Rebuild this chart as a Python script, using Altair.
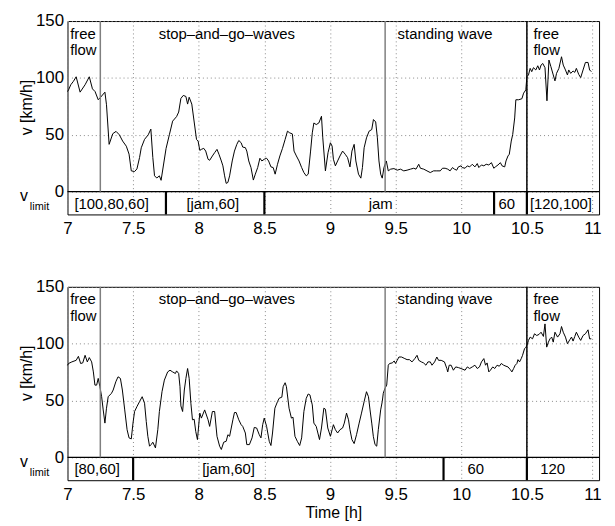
import altair as alt
import pandas as pd

FONT = "Liberation Sans"

x_ticks = [7, 7.5, 8, 8.5, 9, 9.5, 10, 10.5, 11]
y_ticks = [0, 50, 100, 150]

top_t = [7.000, 7.008, 7.025, 7.045, 7.066, 7.096, 7.134, 7.166, 7.190, 7.210, 7.234, 7.252, 7.285, 7.297,
         7.317, 7.345, 7.370, 7.395, 7.420, 7.448, 7.469, 7.486, 7.511, 7.529, 7.549, 7.562, 7.587, 7.615,
         7.635, 7.650, 7.663, 7.680, 7.700, 7.713, 7.751, 7.776, 7.801, 7.831, 7.847, 7.864, 7.882, 7.902,
         7.915, 7.927, 7.947, 7.983, 7.995,
         8.008, 8.020, 8.038, 8.053, 8.071, 8.083, 8.104, 8.121, 8.139, 8.154, 8.172, 8.184, 8.197, 8.209,
         8.222, 8.235, 8.255, 8.272, 8.290, 8.305, 8.323, 8.335, 8.355, 8.366, 8.381, 8.398, 8.416, 8.431,
         8.449, 8.466, 8.481, 8.499, 8.517, 8.532, 8.550, 8.567, 8.582, 8.600, 8.618, 8.638, 8.658, 8.676,
         8.693, 8.713, 8.726, 8.744, 8.764, 8.784, 8.801, 8.819, 8.834, 8.852, 8.865, 8.877, 8.895, 8.915,
         8.935, 8.945, 8.965, 8.985,
         9.003, 9.016, 9.026, 9.041, 9.058, 9.076, 9.096, 9.116, 9.134, 9.152, 9.167, 9.184, 9.197, 9.217,
         9.235, 9.247, 9.260, 9.278, 9.298, 9.318, 9.331, 9.348, 9.361, 9.373, 9.386, 9.398, 9.411, 9.429,
         9.444, 9.462, 9.487, 9.512, 9.537, 9.562, 9.587, 9.613, 9.638, 9.655, 9.676, 9.689, 9.714, 9.739,
         9.764, 9.789, 9.814, 9.840, 9.857, 9.877, 9.897, 9.915, 9.933, 9.948, 9.965, 9.978, 9.998,
         10.008, 10.029, 10.046, 10.064, 10.084, 10.104, 10.122, 10.134, 10.154, 10.172, 10.190, 10.210,
         10.230, 10.248, 10.260, 10.280, 10.298, 10.311, 10.331, 10.341, 10.356, 10.366, 10.381, 10.392,
         10.407, 10.416, 10.437, 10.462, 10.475, 10.492, 10.500, 10.512, 10.525, 10.537, 10.550, 10.568,
         10.583, 10.596, 10.608, 10.621, 10.638, 10.653, 10.668, 10.683, 10.701, 10.714, 10.726, 10.744,
         10.764, 10.777, 10.794, 10.809, 10.819, 10.834, 10.852, 10.865, 10.877, 10.895, 10.910, 10.928,
         10.946, 10.966, 10.978, 10.991]
top_v = [88, 89.5, 94, 97, 101, 87.5, 94, 101, 90.4, 88, 80.8, 83, 87.5, 76.4,
         41.6, 51, 53, 50, 44.5, 40, 33, 18.3, 17.7, 20, 30, 38.6, 46, 50,
         55, 30, 14, 12, 13.9, 10, 38, 50, 62, 66, 70, 82, 84.6, 83.7,
         77, 83, 77, 45.9, 44.5,
         36.3, 37.2, 38.1, 35.7, 28.5, 27.6, 31.4, 34.3, 37.2, 32.9, 27, 22.7, 13.9, 7.3,
         8.1, 13.9, 27, 35.7, 41.6, 45, 43, 39.2, 38.7, 35.7, 27, 21.2, 10.2, 15.4,
         21.2, 29.4, 27, 28.5, 29.4, 27, 21.8, 21.2, 15.4, 24.1, 31.4, 38.1, 45.9, 53.2,
         51.7, 50.8, 35.7, 31.4, 27, 21.2, 16.8, 13.9, 15.4, 35.7, 51.7, 60.4, 59, 60.4,
         66.3, 47.3, 18.3, 34.3,
         43, 40.1, 28.5, 22.7, 27, 31.4, 35.7, 32.9, 29.9, 21.8, 35.7, 41.6, 27, 15.4,
         11.9, 21.2, 38.6, 47.3, 53.2, 54.6, 63.4, 61.3, 47.3, 27, 15.4, 11.9, 21.2, 27,
         18.3, 19.8, 20.3, 18.9, 19.8, 18.3, 18.9, 19.8, 20.6, 19.8, 24.1, 20.6, 19.8, 18.3,
         16.8, 18.3, 18.3, 18.3, 20.6, 20.6, 19.8, 18.3, 21.2, 19.8, 18.9, 21.8, 22.7,
         21.2, 20.6, 22.7, 21.8, 24.1, 21.8, 24.7, 21.2, 23.5, 22.7, 24.1, 23.5,
         25.5, 20.6, 21.8, 23.5, 25.5, 22.7, 21.8, 27, 31.4, 32.9, 44.5, 50.3,
         64.8, 80.8, 80.8, 81.7, 86.6, 89.5, 101.1, 102.6, 108.4, 105.5, 109, 107,
         110.7, 107, 111.3, 112.7, 109, 79.9, 115.7, 109.9, 102.6, 97.4, 104, 108.4,
         118.6, 111.3, 107, 102.6, 107, 104, 106.1, 104.9, 108.4, 103.1, 100.3, 107,
         113.6, 113.6, 107, 105.5]

bot_t = [7.000, 7.008, 7.033, 7.066, 7.083, 7.100, 7.116, 7.134, 7.151, 7.166, 7.184, 7.197, 7.209, 7.222,
         7.234, 7.247, 7.260, 7.272, 7.285, 7.297, 7.310, 7.335, 7.348, 7.368, 7.385, 7.403, 7.418, 7.436,
         7.454, 7.469, 7.486, 7.499, 7.511, 7.529, 7.549, 7.569, 7.587, 7.600, 7.612, 7.625, 7.637, 7.650,
         7.670, 7.688, 7.700, 7.720, 7.738, 7.763, 7.781, 7.801, 7.822, 7.831, 7.847, 7.857, 7.864, 7.877,
         7.890, 7.902, 7.915, 7.927, 7.940, 7.952, 7.965, 7.977, 7.990,
         8.008, 8.020, 8.045, 8.071, 8.083, 8.104, 8.121, 8.139, 8.159, 8.172, 8.190, 8.209, 8.222, 8.235,
         8.260, 8.272, 8.285, 8.305, 8.323, 8.335, 8.355, 8.366, 8.386, 8.406, 8.423, 8.441, 8.461, 8.474,
         8.487, 8.499, 8.517, 8.537, 8.550, 8.562, 8.580, 8.600, 8.612, 8.633, 8.643, 8.658, 8.668, 8.688,
         8.706, 8.718, 8.733, 8.751, 8.769, 8.784, 8.801, 8.819, 8.834, 8.847, 8.865, 8.877, 8.895, 8.920,
         8.935, 8.953, 8.965, 8.983, 9.003,
         9.026, 9.041, 9.058, 9.076, 9.096, 9.109, 9.126, 9.141, 9.152, 9.167, 9.184, 9.202, 9.222, 9.240,
         9.260, 9.278, 9.293, 9.305, 9.318, 9.330, 9.343, 9.356, 9.368, 9.386, 9.398, 9.406, 9.419, 9.432,
         9.444, 9.454, 9.474, 9.489, 9.499, 9.512, 9.525, 9.545, 9.570, 9.587, 9.605, 9.625, 9.646, 9.663,
         9.676, 9.696, 9.713, 9.731, 9.746, 9.764, 9.777, 9.797, 9.814, 9.827, 9.847, 9.872, 9.890, 9.897,
         9.908, 9.923, 9.940, 9.958, 9.978, 9.998,
         10.029, 10.046, 10.064, 10.084, 10.104, 10.122, 10.139, 10.154, 10.172, 10.185, 10.197, 10.210,
         10.222, 10.240, 10.255, 10.273, 10.290, 10.305, 10.323, 10.341, 10.356, 10.373, 10.386, 10.399,
         10.411, 10.424, 10.432, 10.444, 10.457, 10.467, 10.482, 10.494, 10.505, 10.512, 10.525, 10.543,
         10.558, 10.575, 10.593, 10.608, 10.626, 10.638, 10.651, 10.664, 10.676, 10.689, 10.701, 10.714,
         10.734, 10.752, 10.764, 10.777, 10.794, 10.809, 10.827, 10.840, 10.852, 10.865, 10.877, 10.895,
         10.910, 10.928, 10.946, 10.966, 10.978, 10.991]
bot_v = [81, 82.6, 84, 85.4, 88.9, 82.6, 83.1, 89.8, 84, 87.8, 84, 75.2, 63.6, 63.6,
         69.5, 62.2, 53.4, 41.8, 30.2, 43.3, 53.4, 56.4, 59.3, 66.5, 70.9, 69.5, 59.3, 41.8,
         24.4, 17.2, 16.3, 30.2, 40.4, 44.7, 49.1, 53.4, 47.7, 31.6, 18.6, 9.9, 11.3, 13.4,
         8.4, 24.4, 40.4, 57.8, 68, 75.2, 76.7, 75.2, 73.8, 76.1, 73.8, 62.2, 45.3, 40.4,
         59.3, 69.5, 78.2, 69.5, 47.7, 33.1, 33.6, 22.9, 15.7,
         39, 34.6, 41.8, 33.1, 27.3, 40.4, 40.4, 18.6, 9.9, 7, 13.4, 14.2, 20, 18.6,
         33.1, 39.5, 39.5, 33.1, 28.8, 27.3, 21.5, 11.3, 11.3, 17.2, 26.4, 25.9, 20, 17.2,
         28.8, 34.6, 27.3, 14.2, 10.5, 21.5, 43.3, 49.1, 52, 53, 62.2, 65.7, 62.2, 43.3,
         34.6, 35.4, 18.6, 14.2, 10.5, 17.2, 40.4, 52, 55.8, 55, 46.2, 30.2, 27.3, 15.7,
         25.9, 43.3, 42.4, 25.9, 18.6,
         28.8, 24.4, 21.5, 24.4, 25.9, 30.2, 39, 33.1, 24.4, 15.7, 12.2, 20, 30.2, 39,
         49.1, 57.8, 53.4, 41.8, 30.2, 18.6, 11.3, 9.9, 24.4, 41.8, 49.1, 56.4, 60.8, 63.6,
         81.1, 82.6, 83.1, 84.8, 82.6, 85.4, 88.3, 88.3, 86.9, 86, 86, 84, 86.9, 89.8,
         85.4, 84, 83.1, 81.1, 84, 84, 81.1, 84, 88.3, 85.4, 85.4, 84, 78.2, 75.2,
         81.1, 81.1, 76.7, 79.6, 79, 78.2,
         76.7, 79.6, 78.2, 79.6, 81.1, 78.2, 79.6, 84, 86.9, 81.1, 83.1, 75.2,
         76.7, 79.6, 78.2, 81.1, 80.2, 82.6, 81.1, 80.2, 79.6, 77.3, 75.2, 78.2,
         81.1, 82.6, 86, 84, 86.9, 89.8, 95.6, 97, 100, 102.9, 105.8, 104.3,
         108.7, 107.2, 108.2, 110.1, 106.4, 117.4, 97, 101.4, 104.3, 105.8, 101.4, 110.1,
         105.8, 108.7, 115.1, 110.1, 105.8, 100, 103.5, 105.8, 102.3, 106.4, 110.1, 105.8,
         102.9, 107.2, 108.7, 112.2, 104.3, 104.3]

phase_names = ["free\nflow", "stop–and–go–waves", "standing wave", "free\nflow"]
phase_label_t = [7.02, 7.695, 9.515, 10.55]
phase_bounds = [7.25, 9.42, 10.5]
phase_bound_colors = ["#7f7f7f", "#7f7f7f", "#000000"]

top_limit_labels = ["[100,80,60]", "[jam,60]", "jam", "60", "[120,100]"]
top_limit_t = [7.336, 8.107, 9.386, 10.346, 10.759]
top_limit_bounds = [7.75, 8.5, 10.25, 10.5]

bot_limit_labels = ["[80,60]", "[jam,60]", "60", "120"]
bot_limit_t = [7.226, 8.227, 10.11, 10.696]
bot_limit_bounds = [7.5, 9.865, 10.5]

W, H = 536, 195
TEXT_SIZE = 15
xscale = alt.Scale(domain=[7, 11.05], nice=False, zero=False)
yscale = alt.Scale(domain=[-20, 150], nice=False, zero=False)


def panel(t, v, lim_labels, lim_t, lim_bounds, xtitle):
    df = pd.DataFrame({"t": t, "v": v})
    one = pd.DataFrame({"a": [0]})

    xaxis_kw = dict(values=x_ticks, format="~g", labelFontSize=17, labelPadding=6,
                    grid=True, labelFlush=False)
    if xtitle:
        xaxis = alt.Axis(title=xtitle, titleFontSize=16, titleFontWeight="normal",
                         titlePadding=3, **xaxis_kw)
    else:
        xaxis = alt.Axis(title=None, **xaxis_kw)
    yaxis = alt.Axis(values=y_ticks, title=None, labelFontSize=17, labelPadding=4, grid=True)

    line = alt.Chart(df).mark_line(color="black", strokeWidth=1).encode(
        x=alt.X("t:Q", scale=xscale, axis=xaxis),
        y=alt.Y("v:Q", scale=yscale, axis=yaxis),
    )

    zero = alt.Chart(one).mark_rule(color="black", strokeWidth=1.2).encode(
        y=alt.datum(0), x=alt.value(0), x2=alt.value(W)
    )

    bdf = pd.DataFrame({"t": phase_bounds, "c": phase_bound_colors})
    bounds = alt.Chart(bdf).mark_rule(strokeWidth=1.5).encode(
        x=alt.X("t:Q", scale=xscale),
        y=alt.datum(0), y2=alt.datum(150),
        color=alt.Color("c:N", scale=None),
    )

    sdf = pd.DataFrame({"t": lim_bounds})
    seps = alt.Chart(sdf).mark_rule(color="black", strokeWidth=2.2).encode(
        x=alt.X("t:Q", scale=xscale),
        y=alt.datum(-20), y2=alt.datum(0),
    )

    ldf = pd.DataFrame({"t": lim_t, "label": lim_labels})
    lim_text = alt.Chart(ldf).mark_text(font=FONT, fontSize=TEXT_SIZE, color="black",
                                        align="center", baseline="middle").encode(
        x=alt.X("t:Q", scale=xscale), y=alt.datum(-10.5), text="label:N"
    )

    rows = []
    for name, tt in zip(phase_names, phase_label_t):
        for i, part in enumerate(name.split("\n")):
            rows.append({"t": tt, "line": i, "label": part})
    pdf = pd.DataFrame(rows)
    phase_text = alt.Chart(pdf).transform_calculate(
        yy="134.5 - datum.line * 14.5"
    ).mark_text(font=FONT, fontSize=TEXT_SIZE, color="black", align="left",
                baseline="alphabetic").encode(
        x=alt.X("t:Q", scale=xscale), y=alt.Y("yy:Q", scale=yscale), text="label:N"
    )

    ytitle = alt.Chart(one).mark_text(font=FONT, fontSize=16, color="black", angle=270,
                                      align="center", baseline="middle").encode(
        x=alt.value(-41), y=alt.datum(74), text=alt.value("v [km/h]")
    )
    vlim_v = alt.Chart(one).mark_text(font=FONT, fontSize=16, color="black", align="left",
                                      baseline="alphabetic").encode(
        x=alt.value(-48), y=alt.datum(-8), text=alt.value("v")
    )
    vlim_sub = alt.Chart(one).mark_text(font=FONT, fontSize=11, color="black", align="left",
                                        baseline="alphabetic").encode(
        x=alt.value(-38), y=alt.datum(-16.5), text=alt.value("limit")
    )

    return alt.layer(line, zero, bounds, seps, lim_text, phase_text, ytitle, vlim_v, vlim_sub).properties(
        width=W, height=H
    )


top = panel(top_t, top_v, top_limit_labels, top_limit_t, top_limit_bounds, None)
bottom = panel(bot_t, bot_v, bot_limit_labels, bot_limit_t, bot_limit_bounds, "Time [h]")

chart = alt.vconcat(top, bottom, spacing=40).configure_view(
    stroke="black", strokeWidth=1
).configure_axis(
    labelFont=FONT, titleFont=FONT, labelColor="black", titleColor="black",
    tickSize=0, domain=False, gridColor="#8a8a8a", gridDash=[1, 3], gridWidth=1
).properties(
    padding={"left": 10, "top": 1, "right": 5, "bottom": 0}
)

chart.save("out.html", embed_options={"renderer": "svg", "actions": False})
